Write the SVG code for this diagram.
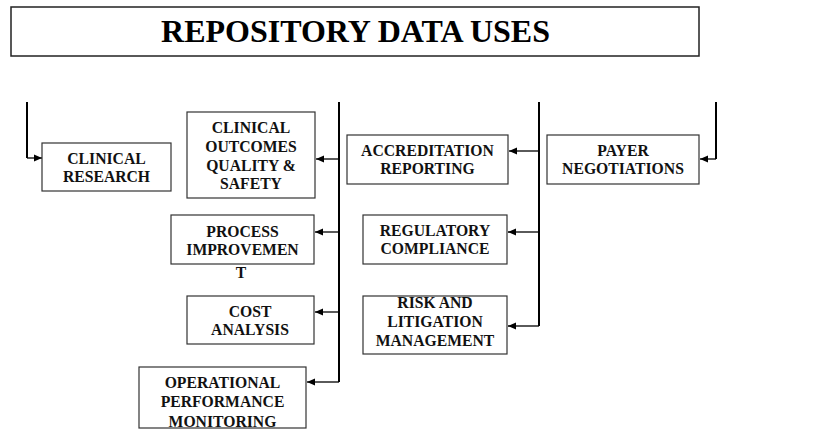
<svg xmlns="http://www.w3.org/2000/svg" width="828" height="444" viewBox="0 0 828 444">
  <style>
    .box { fill: #ffffff; stroke: #333333; stroke-width: 1.2; }
    .lbl { font-family: "Liberation Serif", "Times New Roman", serif; font-weight: bold; font-size: 15.7px; fill: #111111; text-anchor: middle; }
    .title { font-family: "Liberation Serif", "Times New Roman", serif; font-weight: bold; font-size: 32px; fill: #000000; text-anchor: middle; }
    .wire { fill: none; stroke: #000000; stroke-width: 2; }
    .tap { fill: none; stroke: #000000; stroke-width: 1.3; marker-end: url(#head); }
  </style>
  <defs>
    <marker id="head" viewBox="0 0 8 8" refX="8" refY="4" markerWidth="8" markerHeight="8" markerUnits="userSpaceOnUse" orient="auto">
      <path d="M0,0.5 L8,4 L0,7.5 Z" fill="#000000"/>
    </marker>
  </defs>

  <rect x="0" y="0" width="828" height="444" fill="#ffffff"/>

  <g id="title">
    <rect x="11" y="7" width="688" height="49" fill="#ffffff" stroke="#222222" stroke-width="1.5"/>
    <text class="title" x="355.5" y="42">REPOSITORY DATA USES</text>
  </g>

  <g id="connectors">
    <!-- left feed -->
    <polyline class="wire" points="27,102 27,158"/>
    <polyline class="tap" points="27,158 42,158"/>
    <!-- middle-left trunk -->
    <polyline class="wire" points="339,102 339,382"/>
    <polyline class="tap" points="339,159 316,159"/>
    <polyline class="tap" points="339,232 315,232"/>
    <polyline class="tap" points="339,312 315,312"/>
    <polyline class="tap" points="339,382 307,382"/>
    <!-- middle-right trunk -->
    <polyline class="wire" points="539,102 539,326"/>
    <polyline class="tap" points="539,151 509,151"/>
    <polyline class="tap" points="539,232 508,232"/>
    <polyline class="tap" points="539,326 508,326"/>
    <!-- right feed -->
    <polyline class="wire" points="716,102 716,159"/>
    <polyline class="tap" points="716,159 700,159"/>
  </g>

  <g id="clinical-research">
    <rect class="box" x="42" y="143" width="129" height="48"/>
    <text class="lbl" x="106.5" y="164">CLINICAL</text>
    <text class="lbl" x="106.5" y="182">RESEARCH</text>
  </g>

  <g id="clinical-outcomes">
    <rect class="box" x="187" y="112" width="128" height="86"/>
    <text class="lbl" x="251" y="133">CLINICAL</text>
    <text class="lbl" x="251" y="152">OUTCOMES</text>
    <text class="lbl" x="251" y="170.5">QUALITY &amp;</text>
    <text class="lbl" x="251" y="189">SAFETY</text>
  </g>

  <g id="process-improvement">
    <rect class="box" x="171" y="215" width="143" height="49"/>
    <text class="lbl" x="242.5" y="237">PROCESS</text>
    <text class="lbl" x="242.5" y="255">IMPROVEMEN</text>
    <text class="lbl" x="241" y="278">T</text>
  </g>

  <g id="cost-analysis">
    <rect class="box" x="187" y="296" width="127" height="48"/>
    <text class="lbl" x="250" y="317">COST</text>
    <text class="lbl" x="250" y="335">ANALYSIS</text>
  </g>

  <g id="operational-performance">
    <rect class="box" x="139" y="367" width="167" height="61"/>
    <text class="lbl" x="222.5" y="388">OPERATIONAL</text>
    <text class="lbl" x="222.5" y="407">PERFORMANCE</text>
    <text class="lbl" x="222.5" y="427">MONITORING</text>
  </g>

  <g id="accreditation-reporting">
    <rect class="box" x="347" y="135" width="161" height="49"/>
    <text class="lbl" x="427.5" y="156">ACCREDITATION</text>
    <text class="lbl" x="427.5" y="174">REPORTING</text>
  </g>

  <g id="regulatory-compliance">
    <rect class="box" x="363" y="215" width="144" height="49"/>
    <text class="lbl" x="435" y="236">REGULATORY</text>
    <text class="lbl" x="435" y="254">COMPLIANCE</text>
  </g>

  <g id="risk-litigation">
    <rect class="box" x="363" y="296" width="144" height="58"/>
    <text class="lbl" x="435" y="307.5">RISK AND</text>
    <text class="lbl" x="435" y="327">LITIGATION</text>
    <text class="lbl" x="435" y="346">MANAGEMENT</text>
  </g>

  <g id="payer-negotiations">
    <rect class="box" x="547" y="135" width="152" height="49"/>
    <text class="lbl" x="623" y="156">PAYER</text>
    <text class="lbl" x="623" y="174">NEGOTIATIONS</text>
  </g>
</svg>
